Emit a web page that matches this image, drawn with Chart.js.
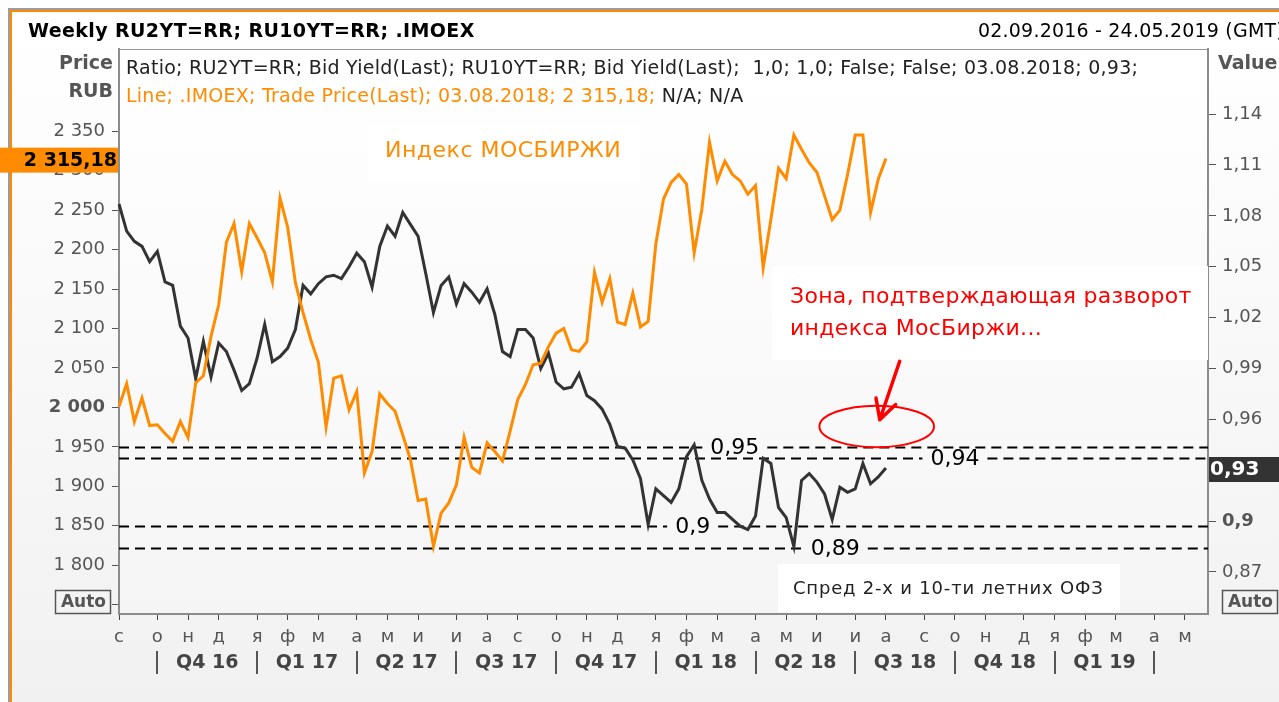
<!DOCTYPE html>
<html>
<head>
<meta charset="utf-8">
<title>IMOEX vs RU2Y/RU10Y spread</title>
<script src="https://cdn.jsdelivr.net/npm/chart.js@4.4.1/dist/chart.umd.min.js"></script>
<style>
  html, body { margin: 0; padding: 0; background: #fff; overflow: hidden; }
  canvas { display: block; }
</style>
</head>
<body>
<canvas id="chart" width="1279" height="702"></canvas>
<script>
// weekly IMOEX vs ratio of 2y / 10y OFZ yields, 02.09.2016 - 03.08.2018

const FONT = '"DejaVu Sans", Verdana, sans-serif';

// weekly categories (fridays), 02.09.2016 .. 24.05.2019
const firstWeek = Date.UTC(2016, 8, 2);
const weekCount = 143;
const weekLabels = [];
for (let i = 0; i < weekCount; i++) {
    weekLabels.push(new Date(firstWeek + i * 7 * 86400000).toISOString().slice(0, 10));
}

// .IMOEX trade price (left axis, RUB)
const imoexPrice = [
    2001, 2030, 1982, 2012, 1977, 1978, 1967, 1957, 1982, 1962,
    2031, 2040, 2090, 2130, 2209, 2233, 2172, 2233, 2215, 2196,
    2159, 2265, 2228, 2158, 2120, 2086, 2057, 1975, 2037, 2040,
    1997, 2020, 1917, 1944, 2017, 2005, 1995, 1965, 1934, 1882,
    1884, 1824, 1866, 1879, 1902, 1962, 1924, 1917, 1955, 1944,
    1932, 1970, 2010, 2029, 2054, 2056, 2077, 2094, 2100, 2073,
    2071, 2083, 2171, 2133, 2163, 2108, 2105, 2145, 2102, 2109,
    2207, 2264, 2285, 2295, 2283, 2196, 2251, 2336, 2287, 2312,
    2295, 2287, 2270, 2281, 2177, 2238, 2303, 2290, 2345, 2327,
    2310, 2298, 2268, 2238, 2250, 2295, 2345, 2345, 2247, 2289,
    2315.18
];

// RU2YT / RU10YT bid yield ratio (right axis)
const spreadRatio = [
    1.087, 1.071, 1.065, 1.062, 1.053, 1.059, 1.041, 1.039, 1.015, 1.008,
    0.984, 1.006, 0.985, 1.005, 1.000, 0.989, 0.977, 0.981, 0.996, 1.016,
    0.994, 0.997, 1.002, 1.013, 1.039, 1.034, 1.040, 1.044, 1.045, 1.043,
    1.050, 1.058, 1.053, 1.038, 1.062, 1.074, 1.068, 1.082, 1.075, 1.068,
    1.046, 1.023, 1.039, 1.044, 1.028, 1.040, 1.035, 1.029, 1.037, 1.022,
    1.000, 0.997, 1.013, 1.013, 1.008, 0.990, 0.999, 0.982, 0.978, 0.979,
    0.987, 0.974, 0.971, 0.966, 0.957, 0.944, 0.943, 0.936, 0.925, 0.898,
    0.919, 0.915, 0.911, 0.919, 0.938, 0.945, 0.924, 0.913, 0.905, 0.905,
    0.901, 0.897, 0.895, 0.903, 0.937, 0.934, 0.908, 0.902, 0.885, 0.924,
    0.928, 0.923, 0.916, 0.901, 0.920, 0.917, 0.919, 0.934, 0.922, 0.926,
    0.9313
];

const leftTicks = [1750, 1800, 1850, 1900, 1950, 2000, 2050, 2100, 2150, 2200, 2250, 2300, 2350];
const rightTicks = [0.87, 0.90, 0.93, 0.96, 0.99, 1.02, 1.05, 1.08, 1.11, 1.14];
const monthLetters = ['я', 'ф', 'м', 'а', 'м', 'и', 'и', 'а', 'с', 'о', 'н', 'д'];
const quarterNames = ['Q4 16', 'Q1 17', 'Q2 17', 'Q3 17', 'Q4 17', 'Q1 18', 'Q2 18', 'Q3 18', 'Q4 18', 'Q1 19'];

// support / resistance levels drawn on the price scale, with their captions
const levelValues = [1950, 1935.5, 1850, 1821.7];
const levelNames = ['0,95', '0,94', '0,9', '0,89'];
const levelNameAt = [80.3, 109, 74.8, 93.4];   // week index of caption

const monthOf = i => +weekLabels[i].slice(5, 7) - 1;
const monthTicks = weekLabels.map((l, i) => i).filter(i => i === 0 || monthOf(i) !== monthOf(i - 1));
const quarterStarts = monthTicks.filter(i => i > 0 && monthOf(i) % 3 === 0);

const fmtRub = v => String(v).replace(/\B(?=(\d{3})+(?!\d))/g, ' ');
const fmtVal = v => String(+v.toFixed(2)).replace('.', ',');

function textBox(ctx, x1, y1, x2, y2) {
    ctx.fillStyle = '#ffffff';
    ctx.fillRect(x1, y1, x2 - x1, y2 - y1);
}

function setFont(ctx, font, spacing) {
    ctx.font = font;
    ctx.letterSpacing = (spacing || 0) + 'px';
}

const decor = {
    id: 'decor',
    beforeDraw(chart) {
        const { ctx, chartArea: a, width, height } = chart;
        ctx.save();
        ctx.fillStyle = '#ffffff';
        ctx.fillRect(0, 0, width, height);
        let g = ctx.createLinearGradient(0, 12, 0, height);
        g.addColorStop(0, '#ffffff');
        g.addColorStop(1, '#f1f1f1');
        ctx.fillStyle = g;
        ctx.fillRect(12, 12, width - 12, height - 12);
        // frame
        ctx.fillStyle = '#9c9c9c';
        ctx.fillRect(8, 8, width - 8, 2);
        ctx.fillRect(8, 8, 2, height - 8);
        ctx.fillStyle = '#ff8c00';
        ctx.fillRect(10, 10, width - 10, 2);
        ctx.fillRect(10, 10, 2, height - 10);
        // plot background
        g = ctx.createLinearGradient(0, a.top, 0, a.bottom);
        g.addColorStop(0, '#ffffff');
        g.addColorStop(1, '#f5f5f5');
        ctx.fillStyle = g;
        ctx.fillRect(a.left, a.top, a.right - a.left, a.bottom - a.top);
        ctx.restore();
    },
    beforeDatasetsDraw(chart) {
        const { ctx, chartArea: a, scales } = chart;
        ctx.save();
        setFont(ctx, '22px ' + FONT);
        ctx.textBaseline = 'middle';
        ctx.textAlign = 'center';
        levelValues.forEach((v, k) => {
            const y = Math.round(scales.yL.getPixelForValue(v)) + 0.5;
            const cx = scales.x.getPixelForValue(levelNameAt[k]);
            const w = ctx.measureText(levelNames[k]).width;
            ctx.strokeStyle = '#000';
            ctx.lineWidth = 2;
            ctx.setLineDash([10, 6]);
            ctx.beginPath();
            ctx.moveTo(a.left, y);
            ctx.lineTo(cx - w / 2 - 8, y);
            ctx.moveTo(cx + w / 2 + 8, y);
            ctx.lineTo(a.right, y);
            ctx.stroke();
            ctx.fillStyle = '#000';
            ctx.fillText(levelNames[k], cx, y + 1);
        });
        ctx.restore();
    },
    afterDatasetsDraw(chart) {
        const { ctx, scales } = chart;
        const x = scales.x, yL = scales.yL;
        ctx.save();
        ctx.textBaseline = 'middle';
        // caption boxes
        textBox(ctx, 368, 125, 640, 182);
        setFont(ctx, '22px ' + FONT, 0.5);
        ctx.fillStyle = '#ff8c00';
        ctx.fillText('Индекс МОСБИРЖИ', 385, 151);

        textBox(ctx, 772, 266, 1208, 360);
        setFont(ctx, '22px ' + FONT, 0.3);
        ctx.fillStyle = '#ff0000';
        ctx.fillText('Зона, подтверждающая разворот', 790, 297);
        ctx.fillText('индекса МосБиржи...', 790, 329);

        textBox(ctx, 778, 564, 1120, 612);
        setFont(ctx, '18px ' + FONT, 0.8);
        ctx.fillStyle = '#222';
        ctx.fillText('Спред 2-х и 10-ти летних ОФЗ', 793, 589);
        setFont(ctx, '18px ' + FONT);

        // reversal zone ellipse + arrow
        const ex = x.getPixelForValue(98.8), ey = yL.getPixelForValue(1975.9);
        const rx = x.getPixelForValue(98.8 + 7.47) - ex;
        const ry = yL.getPixelForValue(1975.9) - yL.getPixelForValue(1975.9 + 26.3);
        ctx.strokeStyle = '#ff0000';
        ctx.lineWidth = 2;
        ctx.beginPath();
        ctx.ellipse(ex, ey, rx, ry, 0, 0, Math.PI * 2);
        ctx.stroke();

        const tx = x.getPixelForValue(101.8), ty = yL.getPixelForValue(2058.4);
        const hx = x.getPixelForValue(99.2), hy = yL.getPixelForValue(1984.4);
        const ang = Math.atan2(ty - hy, tx - hx);
        ctx.lineWidth = 3.5;
        ctx.lineCap = 'round';
        ctx.beginPath();
        ctx.moveTo(tx, ty);
        ctx.lineTo(hx, hy);
        [-0.5, 0.48].forEach(d => {
            ctx.moveTo(hx, hy);
            ctx.lineTo(hx + 22 * Math.cos(ang + d), hy + 22 * Math.sin(ang + d));
        });
        ctx.stroke();
        ctx.restore();
    },
    afterDraw(chart) {
        const { ctx, chartArea: a, scales } = chart;
        ctx.save();
        ctx.textBaseline = 'middle';

        // plot top edge
        ctx.fillStyle = '#9a9a9a';
        ctx.fillRect(a.left, a.top, a.right - a.left, 1);

        // header
        ctx.fillStyle = '#000';
        setFont(ctx, 'bold 19px ' + FONT, 0.4);
        ctx.textAlign = 'left';
        ctx.fillText('Weekly RU2YT=RR; RU10YT=RR; .IMOEX', 28, 32);
        setFont(ctx, '19px ' + FONT, 0.2);
        ctx.fillText('02.09.2016 - 24.05.2019 (GMT)', 978, 32);

        ctx.fillStyle = '#555';
        setFont(ctx, 'bold 19px ' + FONT);
        ctx.textAlign = 'right';
        ctx.fillText('Price', 113, 64);
        ctx.fillText('RUB', 113, 92);
        ctx.textAlign = 'left';
        ctx.fillText('Value', 1218, 64);

        // series info lines
        setFont(ctx, '19px ' + FONT, 0.25);
        ctx.fillStyle = '#222';
        ctx.fillText('Ratio; RU2YT=RR; Bid Yield(Last); RU10YT=RR; Bid Yield(Last);  1,0; 1,0; False; False; 03.08.2018; 0,93;', 126, 69);
        const line2 = 'Line; .IMOEX; Trade Price(Last); 03.08.2018; 2 315,18;';
        ctx.fillStyle = '#ff8c00';
        ctx.fillText(line2, 126, 97);
        ctx.fillStyle = '#222';
        ctx.fillText(' N/A; N/A', 126 + ctx.measureText(line2).width, 97);
        setFont(ctx, '19px ' + FONT);

        // last value markers
        const lastIdx = imoexPrice.length - 1;
        const py = scales.yL.getPixelForValue(imoexPrice[lastIdx]);
        ctx.fillStyle = '#ff8c00';
        ctx.fillRect(0, py - 11, a.left - 1, 25);
        ctx.fillStyle = '#000';
        setFont(ctx, 'bold 19px ' + FONT);
        ctx.textAlign = 'right';
        ctx.fillText(fmtRub(imoexPrice[lastIdx]).replace('.', ','), a.left - 2, py + 2);

        const ry = scales.yR.getPixelForValue(spreadRatio[spreadRatio.length - 1]);
        ctx.fillStyle = '#333';
        ctx.fillRect(a.right + 1, ry - 11, 80, 25);
        ctx.fillStyle = '#fff';
        setFont(ctx, 'bold 20px ' + FONT);
        ctx.textAlign = 'left';
        ctx.fillText(fmtVal(spreadRatio[spreadRatio.length - 1]), a.right + 2, ry + 2);

        // Auto buttons
        setFont(ctx, 'bold 17px ' + FONT);
        ctx.textAlign = 'center';
        ctx.lineWidth = 1.5;
        ctx.strokeStyle = '#555';
        [[55, 110], [1222, 1277]].forEach(([l, r]) => {
            ctx.strokeRect(l + 0.5, 590.5, r - l, 23);
            ctx.fillStyle = '#555';
            ctx.fillText('Auto', (l + r) / 2 + 1, 603);
        });

        // quarter row
        const qx = quarterStarts.map(i => scales.x.getPixelForValue(i));
        ctx.fillStyle = '#555';
        qx.forEach(px => ctx.fillRect(Math.round(px) - 1, 651, 2, 23));
        setFont(ctx, 'bold 19px ' + FONT);
        ctx.fillStyle = '#444';
        quarterNames.forEach((q, k) => ctx.fillText(q, (qx[k] + qx[k + 1]) / 2, 663));
        ctx.restore();
    }
};

Chart.defaults.font.family = FONT;

new Chart(document.getElementById('chart'), {
    type: 'line',
    data: {
        labels: weekLabels,
        datasets: [
            {
                label: '.IMOEX',
                data: imoexPrice,
                yAxisID: 'yL',
                borderColor: '#ff8c00',
                borderWidth: 3,
                pointRadius: 0,
                tension: 0
            },
            {
                label: 'RU2YT/RU10YT',
                data: spreadRatio,
                yAxisID: 'yR',
                borderColor: '#333333',
                borderWidth: 3,
                pointRadius: 0,
                tension: 0
            }
        ]
    },
    options: {
        responsive: false,
        devicePixelRatio: 1,
        animation: false,
        events: [],
        layout: { padding: { top: 49, left: 0, right: 0, bottom: 0 } },
        plugins: { legend: { display: false }, tooltip: { enabled: false } },
        scales: {
            x: {
                type: 'category',
                offset: false,
                afterBuildTicks: s => { s.ticks = monthTicks.map(v => ({ value: v })); },
                afterFit: s => { s.height = 88; },
                grid: { drawOnChartArea: false, drawTicks: true, tickLength: 6, tickColor: '#444', tickWidth: 1 },
                border: { display: true, color: '#8c8c8c', width: 2 },
                ticks: {
                    autoSkip: false, maxRotation: 0, padding: 7, color: '#555',
                    font: { size: 18 },
                    callback: v => monthLetters[monthOf(v)]
                }
            },
            yL: {
                position: 'left',
                min: 1738.2,
                max: 2454.1,
                afterBuildTicks: s => { s.ticks = leftTicks.map(v => ({ value: v })); },
                afterFit: s => { s.width = 119; },
                grid: { drawOnChartArea: false, tickLength: 7, tickColor: '#555' },
                border: { color: '#8c8c8c', width: 2 },
                ticks: {
                    padding: 7, color: '#555',
                    font: c => ({ size: 18, weight: c.tick && c.tick.value === 2000 ? 'bold' : 'normal' }),
                    callback: v => v < 1800 ? '' : fmtRub(v)
                }
            },
            yR: {
                position: 'right',
                min: 0.8452,
                max: 1.1784,
                afterBuildTicks: s => { s.ticks = rightTicks.map(v => ({ value: v })); },
                afterFit: s => { s.width = 71; },
                grid: { drawOnChartArea: false, tickLength: 8, tickColor: '#555' },
                border: { color: '#8c8c8c', width: 2 },
                ticks: {
                    padding: 6, color: '#555',
                    font: c => ({ size: 18, weight: c.tick && Math.abs(c.tick.value - 0.9) < 1e-6 ? 'bold' : 'normal' }),
                    callback: v => fmtVal(v)
                }
            }
        }
    },
    plugins: [decor]
});
</script>
</body>
</html>
